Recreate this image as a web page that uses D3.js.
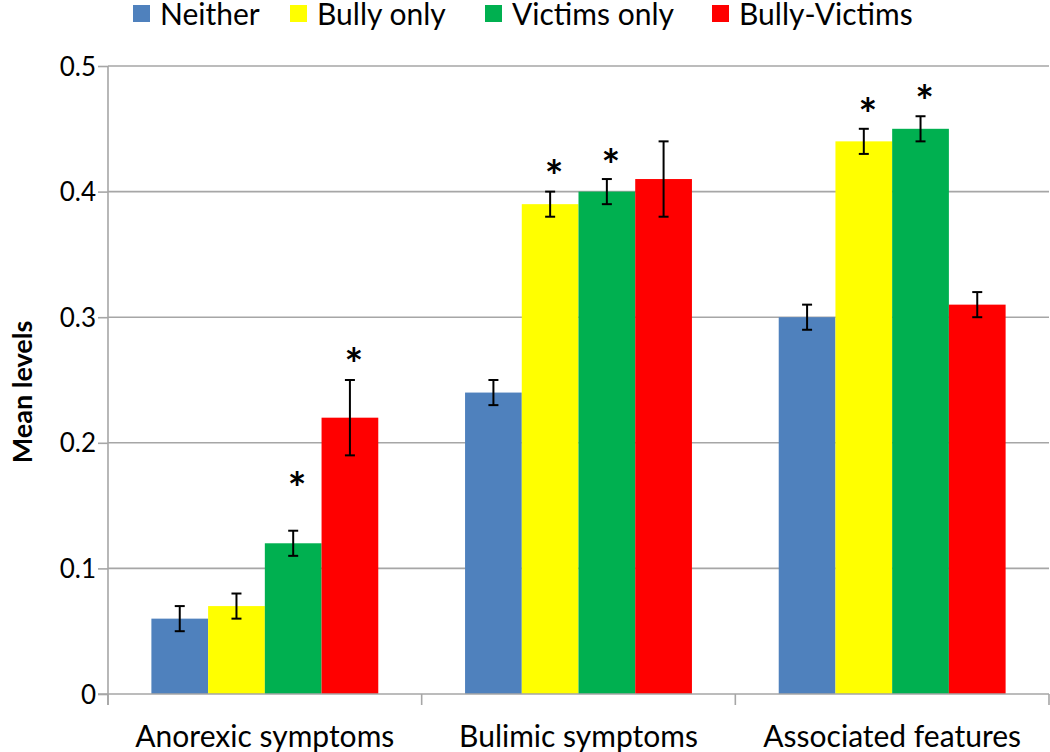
<!DOCTYPE html>
<html>
<head>
<meta charset="utf-8">
<script src="https://cdn.jsdelivr.net/npm/d3@7"></script>
<style>
  html, body { margin: 0; padding: 0; background: #fff; }
  svg { display: block; }
  text { font-family: "Lato", "Open Sans", sans-serif; fill: #000; }
</style>
</head>
<body>
<svg id="chart" width="1050" height="752"></svg>
<script>
// ---- Data ----
const categories = ["Anorexic symptoms", "Bulimic symptoms", "Associated features"];
const seriesNames = ["Neither", "Bully only", "Victims only", "Bully-Victims"];
const seriesColors = ["#4F81BD", "#FFFF00", "#00B050", "#FF0000"];
// mean levels per series, in category order
const neither      = [0.06, 0.24, 0.30];
const bullyOnly    = [0.07, 0.39, 0.44];
const victimsOnly  = [0.12, 0.40, 0.45];
const bullyVictims = [0.22, 0.41, 0.31];
// error half-widths
const errNeither      = [0.01, 0.01, 0.01];
const errBullyOnly    = [0.01, 0.01, 0.01];
const errVictimsOnly  = [0.01, 0.01, 0.01];
const errBullyVictims = [0.03, 0.03, 0.01];
// significance markers: level of the asterisk (null = none)
const starNeither      = [null, null, null];
const starBullyOnly    = [null, 0.42, 0.47];
const starVictimsOnly  = [0.172, 0.429, 0.48];
const starBullyVictims = [0.271, null, null];
const yTicks = [0, 0.1, 0.2, 0.3, 0.4, 0.5];
const yTickLabels = ["0", "0.1", "0.2", "0.3", "0.4", "0.5"];
const yTitle = "Mean levels";

const values = [neither, bullyOnly, victimsOnly, bullyVictims];
const errors = [errNeither, errBullyOnly, errVictimsOnly, errBullyVictims];
const stars = [starNeither, starBullyOnly, starVictimsOnly, starBullyVictims];

// ---- Layout ----
const svg = d3.select("#chart");
const pLeft = 108, pRight = 1049, pTop = 66, pBottom = 694;

const x0 = d3.scaleBand().domain(categories).range([pLeft, pRight]).paddingInner(0).paddingOuter(0);
const x1 = d3.scaleBand().domain(d3.range(seriesNames.length))
  .range([0, x0.bandwidth()]).paddingOuter(0.765).paddingInner(0);
const y = d3.scaleLinear().domain([0, 0.5]).range([pBottom, pTop]);

// gridlines
svg.append("g").selectAll("line").data(yTicks.filter(t => t > 0)).join("line")
  .attr("x1", pLeft).attr("x2", pRight)
  .attr("y1", d => y(d)).attr("y2", d => y(d))
  .attr("stroke", "#a6a6a6").attr("stroke-width", 1.6);

// y axis
const yAxis = svg.append("g").attr("transform", `translate(${pLeft},0)`)
  .call(d3.axisLeft(y).tickValues(yTicks).tickFormat((d, i) => yTickLabels[i]).tickSize(10).tickPadding(2));
yAxis.select(".domain").attr("stroke", "#a6a6a6").attr("stroke-width", 1.6).attr("d", `M0,${pTop}V${pBottom + 11}`);
yAxis.selectAll(".tick line").attr("stroke", "#a6a6a6").attr("stroke-width", 1.6);
yAxis.selectAll(".tick text").style("font-size", "26px").attr("dy", "0.35em");

// bars
const groups = svg.append("g").selectAll("g").data(categories).join("g")
  .attr("transform", d => `translate(${x0(d)},0)`);

seriesNames.forEach((s, si) => {
  groups.append("rect")
    .attr("x", x1(si))
    .attr("width", x1.bandwidth())
    .attr("y", (d, ci) => y(values[si][ci]))
    .attr("height", (d, ci) => y(0) - y(values[si][ci]))
    .attr("fill", seriesColors[si]);
});

// x axis
const xAxis = svg.append("g").attr("transform", `translate(0,${pBottom})`)
  .call(d3.axisBottom(x0).tickSize(0).tickPadding(32));
xAxis.select(".domain").attr("stroke", "#a6a6a6").attr("stroke-width", 1.6).attr("d", `M${pLeft - 10},0H${pRight}`);
xAxis.selectAll(".tick text").style("font-size", "30px");
// category boundary ticks
const bounds = categories.map(c => x0(c)).concat([x0(categories[categories.length - 1]) + x0.bandwidth()]);
xAxis.append("g").selectAll("line").data(bounds).join("line")
  .attr("x1", d => d).attr("x2", d => d).attr("y1", 0).attr("y2", 11)
  .attr("stroke", "#a6a6a6").attr("stroke-width", 1.6);

// error bars and stars
seriesNames.forEach((s, si) => {
  const cx = ci => x0(categories[ci]) + x1(si) + x1.bandwidth() / 2;
  categories.forEach((c, ci) => {
    const v = values[si][ci], e = errors[si][ci];
    const g = svg.append("g").attr("stroke", "#000").attr("stroke-width", 2);
    g.append("line").attr("x1", cx(ci)).attr("x2", cx(ci)).attr("y1", y(v - e)).attr("y2", y(v + e));
    g.append("line").attr("x1", cx(ci) - 5).attr("x2", cx(ci) + 5).attr("y1", y(v - e)).attr("y2", y(v - e));
    g.append("line").attr("x1", cx(ci) - 5).attr("x2", cx(ci) + 5).attr("y1", y(v + e)).attr("y2", y(v + e));
    const st = stars[si][ci];
    if (st !== null) {
      svg.append("text").attr("x", cx(ci) + 4).attr("y", y(st) + 26)
        .attr("text-anchor", "middle").style("font-size", "44px").style("font-weight", "bold").text("*");
    }
  });
});

// y title
svg.append("text").attr("transform", `translate(32,${(pTop + pBottom) / 2 + 12}) rotate(-90)`)
  .attr("text-anchor", "middle").style("font-size", "27px").style("font-weight", "bold").text(yTitle);

// legend
const legendX = [133, 290, 485, 712];
const lg = svg.append("g").selectAll("g").data(seriesNames).join("g")
  .attr("transform", (d, i) => `translate(${legendX[i]},0)`);
lg.append("rect").attr("x", 0).attr("y", 5).attr("width", 17).attr("height", 17)
  .attr("fill", (d, i) => seriesColors[i]);
lg.append("text").attr("x", 27).attr("y", 25).style("font-size", "30px").text(d => d);
</script>
</body>
</html>
